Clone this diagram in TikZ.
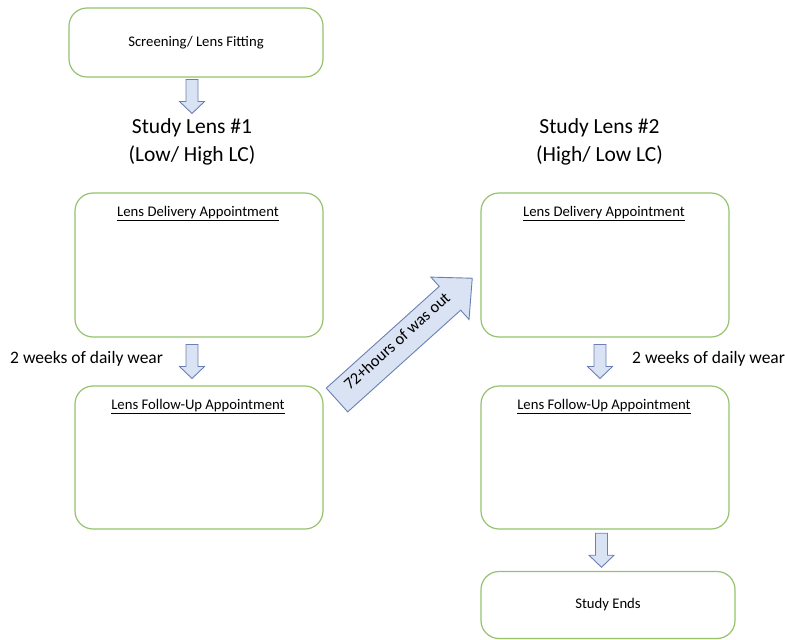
\documentclass[tikz,border=0pt]{standalone}
\usepackage{fontspec}
\setmainfont{Carlito}
\usetikzlibrary{calc}

\definecolor{c97c26e}{RGB}{151,194,110}
\definecolor{cdae3f3}{RGB}{218,227,243}
\definecolor{c6a80b4}{RGB}{106,128,180}

\tikzset{
  stagebox/.style={draw=c97c26e, line width=1.2pt, rounded corners=18pt,
    fill=white, inner sep=0pt, outer sep=0pt, minimum width=248pt,
    font=\fontsize{14.7}{17}\selectfont},
  boxtitle/.style={anchor=center, inner sep=0pt,
    font=\fontsize{14.7}{17}\selectfont},
  phasetitle/.style={align=center, inner sep=0pt,
    font=\fontsize{21.5}{28}\selectfont},
  wearnote/.style={anchor=base west, inner sep=0pt,
    font=\fontsize{17.5}{20}\selectfont},
  blockarrow/.style={draw=c6a80b4, fill=cdae3f3, line width=0.9pt,
    line join=miter},
  downarrow/.pic={\path[blockarrow] (-6,-17) -- (6,-17) -- (6,5) --
    (12.5,5) -- (0,17) -- (-12.5,5) -- (-6,5) -- cycle;}
}

\begin{document}
\begin{tikzpicture}[x=1pt, y=-1pt]
\useasboundingbox (0,0) rectangle (785,640);

\node[stagebox, minimum width=254pt, minimum height=69pt] (screening)
  at (196,42.5) {Screening/ Lens Fitting};
\node[phasetitle] (lens1) at (192,142) {Study Lens \#1\\(Low/ High LC)};
\node[phasetitle] (lens2) at (599.5,142) {Study Lens \#2\\(High/ Low LC)};

\node[stagebox, minimum height=144pt] (delivery1) at (199,265) {};
\node[boxtitle] (delivery1text) at ($(delivery1.north)+(-1,21)$)
  {\underline{Lens Delivery Appointment}};
\node[stagebox, minimum height=143pt] (followup1) at (199,457.5) {};
\node[boxtitle] (followup1text) at ($(followup1.north)+(-1,21)$)
  {\underline{Lens Follow-Up Appointment}};

\node[stagebox, minimum height=144pt] (delivery2) at (605,265) {};
\node[boxtitle] (delivery2text) at ($(delivery2.north)+(-1,21)$)
  {\underline{Lens Delivery Appointment}};
\node[stagebox, minimum height=143pt] (followup2) at (605,457.5) {};
\node[boxtitle] (followup2text) at ($(followup2.north)+(-1,21)$)
  {\underline{Lens Follow-Up Appointment}};
\node[stagebox, minimum width=254pt, minimum height=67pt] (studyends)
  at (608,605) {Study Ends};

\pic at ($(screening.south)+(-4,19.5)$) {downarrow};
\pic at ($(delivery1.south)!0.5!(followup1.north)+(-7,0)$) {downarrow};
\pic at ($(delivery2.south)!0.5!(followup2.north)+(-5,0)$) {downarrow};
\pic at ($(followup2.south)!0.5!(studyends.north)+(-5,0)$) {downarrow};

\node[wearnote] (wear1) at (10,363) {2 weeks of daily wear};
\node[wearnote] (wear2) at (632,363) {2 weeks of daily wear};

\begin{scope}[shift={($(followup1.north east)+(14,14)$)}, rotate=42,
  transform shape]
  \path[blockarrow] (0,-16) -- (152,-16) -- (152,-28.5) -- (182,0) --
    (152,28.5) -- (152,16) -- (0,16) -- cycle;
  \node[inner sep=0pt, font=\fontsize{16.5}{18}\selectfont] (washout)
    at (84,-4) {72+hours of was out};
\end{scope}

\end{tikzpicture}
\end{document}
